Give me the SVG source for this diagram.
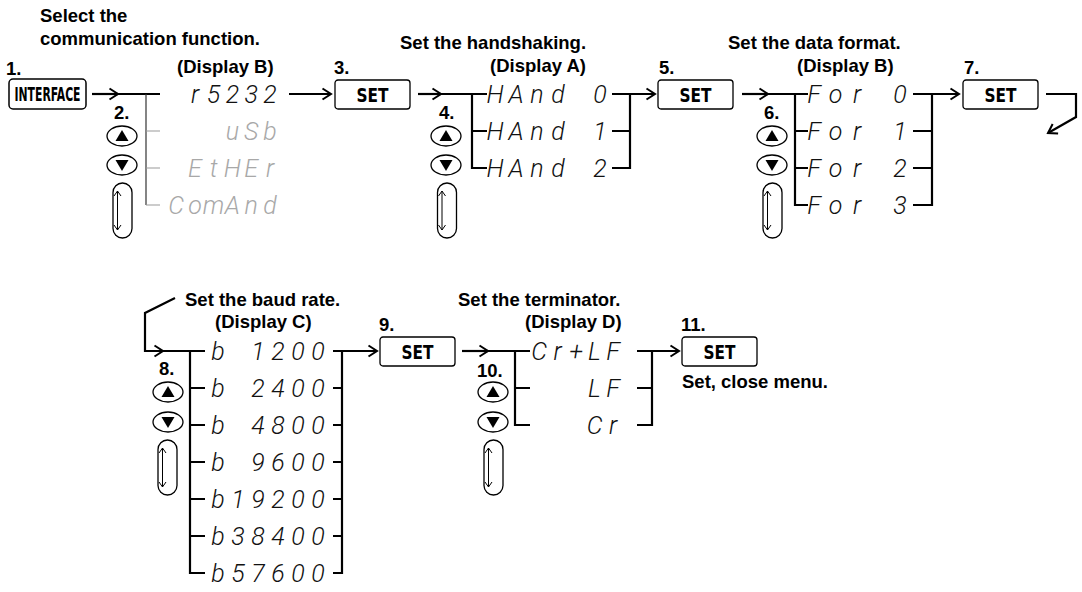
<svg xmlns="http://www.w3.org/2000/svg" xmlns:xlink="http://www.w3.org/1999/xlink" width="1082" height="592" viewBox="0 0 1082 592">
<style>
.lbl{font-family:"Liberation Sans",Arial,Helvetica,sans-serif;font-weight:bold;font-size:18.5px;fill:#000}
.key{font-family:"DejaVu Sans Condensed","DejaVu Sans","Liberation Sans",sans-serif;font-weight:bold;font-size:19px;fill:#000;text-anchor:middle}
.seg{font-family:Roboto,"DejaVu Sans",sans-serif;font-style:italic;font-weight:300;font-size:25px;fill:#111;text-anchor:middle}
.off{fill:#a8a8a8}
.box{fill:#fff;stroke:#000;stroke-width:1.3}
.thick{fill:none;stroke:#000;stroke-width:2.2}
.thin{fill:none;stroke:#333;stroke-width:1.2}
.gray{fill:none;stroke:#999;stroke-width:1.2}
.arr{fill:none;stroke:#000;stroke-width:2.2;marker-end:url(#ah)}
</style>
<defs>
<marker id="ah" markerUnits="userSpaceOnUse" markerWidth="14" markerHeight="14" refX="12" refY="7" orient="auto">
<path d="M3.5,1.5 L12,7 L3.5,12.5" fill="none" stroke="#000" stroke-width="2"/>
</marker>
<g id="btnUp"><ellipse cx="0" cy="0" rx="15" ry="10" class="box"/><path d="M0,-6 L6.5,5 L-6.5,5Z" fill="#000"/></g>
<g id="btnDn"><ellipse cx="0" cy="0" rx="15" ry="10" class="box"/><path d="M0,6 L6.5,-5 L-6.5,-5Z" fill="#000"/></g>
<g id="scroll"><rect x="-9.5" y="0" width="19" height="55" rx="9.5" class="box"/><path d="M-5,8 V47 M-8.5,13 L-5,8 L-1.5,13 M-8.5,42 L-5,47 L-1.5,42" fill="none" stroke="#000" stroke-width="1"/></g>
<g id="setBtn"><rect x="0" y="0" width="75" height="29" rx="3" class="box"/><text x="37.5" y="21.5" class="key" textLength="32" lengthAdjust="spacingAndGlyphs">SET</text></g>
</defs>
<rect width="1082" height="592" fill="#fff"/>

<g id="connectors">
<path class="arr" d="M92,94 H118"/>
<path class="thick" d="M116,94 H160"/>
<path class="thin" d="M146,94 V205"/>
<path class="gray" d="M146,131 H160 M146,168 H160 M146,205 H160"/>
<path class="arr" d="M289,94 H331"/>
<path class="arr" d="M418,94 H441"/>
<path class="thick" d="M439,94 H487 M472,94 V168 H487 M472,131 H487"/>
<path class="thick" d="M612,131 H630 M612,168 H630 V94"/>
<path class="arr" d="M612,94 H655"/>
<path class="arr" d="M742,94 H768"/>
<path class="thick" d="M766,94 H808 M795,94 V205 H808 M795,131 H808 M795,168 H808"/>
<path class="thick" d="M913,131 H932 M913,168 H932 M913,205 H932 V94"/>
<path class="arr" d="M913,94 H959"/>
<path class="arr" d="M1046,94 H1076 V117 L1048,133"/>
<path class="arr" d="M175,298 L145,313 V351 H163"/>
<path class="thick" d="M161,351 H205 M190,351 V573 H205 M190,388 H205 M190,425 H205 M190,462 H205 M190,499 H205 M190,536 H205"/>
<path class="thick" d="M333,388 H342 M333,425 H342 M333,462 H342 M333,499 H342 M333,536 H342 M333,573 H342 V351"/>
<path class="arr" d="M333,351 H377"/>
<path class="arr" d="M462,351 H488"/>
<path class="thick" d="M486,351 H530 M515,351 V425 H530 M515,388 H530"/>
<path class="thick" d="M637,388 H652 M637,425 H652 V351"/>
<path class="arr" d="M637,351 H679"/>
</g>

<g id="step1">
<text class="lbl" x="40" y="22">Select the</text>
<text class="lbl" x="40" y="45">communication function.</text>
<text class="lbl" x="6" y="75">1.</text>
<rect x="9" y="79" width="77" height="30" rx="4" fill="#fff" stroke="#000" stroke-width="1.5"/>
<text class="key" x="47.5" y="101" textLength="66" lengthAdjust="spacingAndGlyphs">INTERFACE</text>
</g>

<g id="step2">
<text class="lbl" x="114" y="119">2.</text>
<use xlink:href="#btnUp" href="#btnUp" x="122" y="136"/>
<use xlink:href="#btnDn" href="#btnDn" x="122" y="165"/>
<use xlink:href="#scroll" href="#scroll" x="122.5" y="183"/>
</g>

<g id="displayB1">
<text class="lbl" x="177" y="73">(Display B)</text>
<text class="seg" x="195 213.6 232.4 251.2 270" y="103">r5232</text>
<text class="seg off" x="232.4 251.2 270" y="140">uSb</text>
<text class="seg off" x="195 213.6 232.4 251.2 270" y="177">EtHEr</text>
<text class="seg off" x="176 195 213.6 232.4 251.2 270" y="214">ComAnd</text>
</g>

<g id="step3">
<text class="lbl" x="334" y="74">3.</text>
<use xlink:href="#setBtn" href="#setBtn" x="335" y="80"/>
</g>

<g id="step4">
<text class="lbl" x="400" y="49">Set the handshaking.</text>
<text class="lbl" x="490" y="72">(Display A)</text>
<text class="lbl" x="439" y="119">4.</text>
<use xlink:href="#btnUp" href="#btnUp" x="446" y="136"/>
<use xlink:href="#btnDn" href="#btnDn" x="446" y="165"/>
<use xlink:href="#scroll" href="#scroll" x="447" y="183"/>
<text class="seg" x="495 516 537 558 579 600" y="103">HAnd 0</text>
<text class="seg" x="495 516 537 558 579 600" y="140">HAnd 1</text>
<text class="seg" x="495 516 537 558 579 600" y="177">HAnd 2</text>
</g>

<g id="step5">
<text class="lbl" x="659" y="74">5.</text>
<use xlink:href="#setBtn" href="#setBtn" x="658" y="80"/>
</g>

<g id="step6">
<text class="lbl" x="728" y="49">Set the data format.</text>
<text class="lbl" x="797" y="72">(Display B)</text>
<text class="lbl" x="764" y="119">6.</text>
<use xlink:href="#btnUp" href="#btnUp" x="772" y="136"/>
<use xlink:href="#btnDn" href="#btnDn" x="772" y="165"/>
<use xlink:href="#scroll" href="#scroll" x="772.5" y="183"/>
<text class="seg" x="814 835.5 857 878.5 900" y="103">For 0</text>
<text class="seg" x="814 835.5 857 878.5 900" y="140">For 1</text>
<text class="seg" x="814 835.5 857 878.5 900" y="177">For 2</text>
<text class="seg" x="814 835.5 857 878.5 900" y="214">For 3</text>
</g>

<g id="step7">
<text class="lbl" x="964" y="74">7.</text>
<use xlink:href="#setBtn" href="#setBtn" x="963" y="80"/>
</g>

<g id="step8">
<text class="lbl" x="185" y="306">Set the baud rate.</text>
<text class="lbl" x="215" y="328">(Display C)</text>
<text class="lbl" x="159" y="375">8.</text>
<use xlink:href="#btnUp" href="#btnUp" x="168" y="392"/>
<use xlink:href="#btnDn" href="#btnDn" x="168" y="422"/>
<use xlink:href="#scroll" href="#scroll" x="167.5" y="440"/>
<text class="seg" x="218 238 258 278 298 318" y="360">b 1200</text>
<text class="seg" x="218 238 258 278 298 318" y="397">b 2400</text>
<text class="seg" x="218 238 258 278 298 318" y="434">b 4800</text>
<text class="seg" x="218 238 258 278 298 318" y="471">b 9600</text>
<text class="seg" x="218 228 238 258 278 298 318" y="508">b 19200</text>
<text class="seg" x="218 238 258 278 298 318" y="545">b38400</text>
<text class="seg" x="218 238 258 278 298 318" y="582">b57600</text>
</g>

<g id="step9">
<text class="lbl" x="379" y="331">9.</text>
<use xlink:href="#setBtn" href="#setBtn" x="380" y="337"/>
</g>

<g id="step10">
<text class="lbl" x="458" y="306">Set the terminator.</text>
<text class="lbl" x="525" y="328">(Display D)</text>
<text class="lbl" x="477" y="377">10.</text>
<use xlink:href="#btnUp" href="#btnUp" x="493" y="392"/>
<use xlink:href="#btnDn" href="#btnDn" x="493" y="422"/>
<use xlink:href="#scroll" href="#scroll" x="493.5" y="440"/>
<text class="seg" x="539 557.5 576 594.5 613" y="360">Cr+LF</text>
<text class="seg" x="594.5 613" y="397">LF</text>
<text class="seg" x="594.5 613" y="434">Cr</text>
</g>

<g id="step11">
<text class="lbl" x="681" y="331">11.</text>
<use xlink:href="#setBtn" href="#setBtn" x="682" y="337"/>
<text class="lbl" x="682" y="388">Set, close menu.</text>
</g>
</svg>
